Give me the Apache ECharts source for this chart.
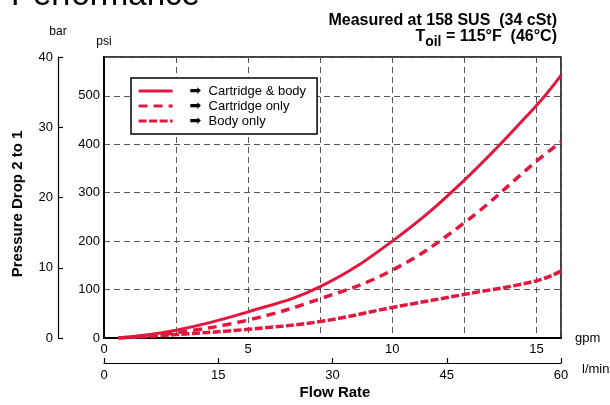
<!DOCTYPE html>
<html>
<head>
<meta charset="utf-8">
<script src="https://cdn.jsdelivr.net/npm/echarts@6/dist/echarts.min.js"></script>
<style>
    html, body { margin: 0; padding: 0; background: #fff; }
    #perf { width: 610px; height: 405px; }
</style>
</head>
<body>
<div id="perf"></div>
<script>
// flow in gpm, pressure drop in psi
var flowGpm = [0.5, 2.5, 5, 7.5, 10, 12.5, 15, 15.85];
var cartridgeBody = [0, 16, 54, 106, 200, 326, 480, 542];
var cartridgeOnly = [0, 11, 37, 81, 140, 238, 365, 405];
var bodyOnly = [0, 7, 18, 34, 63, 90, 118, 138];

var seriesNames = ['Cartridge & body', 'Cartridge only', 'Body only'];
var gpmTicks = [0, 5, 10, 15];
var psiTicks = [0, 100, 200, 300, 400, 500];

var red = '#e2173d';
var font = "'Liberation Sans', Arial, Helvetica, sans-serif";

function pairs(ys) {
    var out = [];
    for (var i = 0; i < flowGpm.length; i++) {
        out.push([flowGpm[i], ys[i]]);
    }
    return out;
}

var chart = echarts.init(document.getElementById('perf'));

var dashGrid = {
    show: true,
    lineStyle: { color: '#555', width: 1, type: [6, 4] }
};

var option = {
    animation: false,
    textStyle: { fontFamily: font },
    grid: {
        left: 104,
        right: 49,
        top: 57,
        bottom: 67,
        outerBoundsMode: 'none',
        containLabel: false,
        show: true,
        borderColor: '#000',
        borderWidth: 1.5,
        backgroundColor: 'transparent'
    },
    legend: {
        left: 131,
        top: 78,
        orient: 'vertical',
        itemWidth: 34,
        itemHeight: 10,
        itemGap: 1,
        padding: [6, 11, 6, 6],
        borderColor: '#000',
        borderWidth: 1.5,
        backgroundColor: '#fff',
        data: seriesNames,
        itemStyle: { opacity: 0 },
        lineStyle: { width: 3.2 },
        formatter: function(name) {
            return '{arr|➡}  ' + name;
        },
        textStyle: {
            fontSize: 13,
            color: '#000',
            fontFamily: font,
            rich: {
                arr: { fontFamily: 'DejaVu Sans', fontSize: 14, color: '#000', padding: [0, 0, 0, 12] }
            }
        }
    },
    xAxis: [{
            type: 'value',
            min: 0,
            max: 15.85,
            interval: 2.5,
            position: 'bottom',
            name: 'gpm',
            nameGap: 14,
            nameTextStyle: { color: '#000', fontSize: 13, verticalAlign: 'middle', padding: [0, 0, 6, 0] },
            axisLine: { onZero: false, lineStyle: { color: '#000', width: 2 } },
            axisTick: { show: false },
            axisLabel: {
                color: '#000',
                fontSize: 13,
                margin: 5,
                showMaxLabel: false,
                formatter: function(v) {
                    return gpmTicks.indexOf(v) >= 0 ? String(v) : '';
                }
            },
            splitLine: dashGrid
        },
        {
            type: 'value',
            min: 0,
            max: 60,
            interval: 15,
            position: 'bottom',
            offset: 25,
            name: 'l/min',
            nameGap: 21,
            nameTextStyle: { color: '#000', fontSize: 13, verticalAlign: 'top' },
            axisLine: { onZero: false, lineStyle: { color: '#000', width: 1.2 } },
            axisTick: { show: true, inside: true, length: 5, lineStyle: { color: '#000', width: 1.2 } },
            axisLabel: { color: '#000', fontSize: 13, margin: 6 },
            splitLine: { show: false }
        }
    ],
    yAxis: [{
            type: 'value',
            min: 0,
            max: 580,
            interval: 100,
            position: 'left',
            name: 'psi',
            nameGap: 9,
            nameTextStyle: { color: '#000', fontSize: 12, align: 'center' },
            axisLine: { show: true, onZero: false, lineStyle: { color: '#000', width: 2 } },
            axisTick: { show: false },
            axisLabel: {
                color: '#000',
                fontSize: 13,
                margin: 4,
                showMaxLabel: false,
                formatter: function(v) {
                    return psiTicks.indexOf(v) >= 0 ? String(v) : '';
                }
            },
            splitLine: dashGrid
        },
        {
            type: 'value',
            min: 0,
            max: 40,
            interval: 10,
            position: 'left',
            offset: 46,
            name: 'bar',
            nameGap: 19,
            nameTextStyle: { color: '#000', fontSize: 12, align: 'center' },
            axisLine: { show: true, onZero: false, lineStyle: { color: '#000', width: 1.2 } },
            axisTick: { show: true, inside: true, length: 5, lineStyle: { color: '#000', width: 1.2 } },
            axisLabel: { color: '#000', fontSize: 13, margin: 5 },
            splitLine: { show: false }
        }
    ],
    series: [{
            name: seriesNames[0],
            type: 'line',
            xAxisIndex: 0,
            yAxisIndex: 0,
            smooth: 0.4,
            symbol: 'none',
            data: pairs(cartridgeBody),
            lineStyle: { color: red, width: 3 },
            itemStyle: { color: red }
        },
        {
            name: seriesNames[1],
            type: 'line',
            xAxisIndex: 0,
            yAxisIndex: 0,
            smooth: 0.4,
            symbol: 'none',
            data: pairs(cartridgeOnly),
            lineStyle: { color: red, width: 3.5, type: [9, 6] },
            itemStyle: { color: red }
        },
        {
            name: seriesNames[2],
            type: 'line',
            xAxisIndex: 0,
            yAxisIndex: 0,
            smooth: 0.4,
            symbol: 'none',
            data: pairs(bodyOnly),
            lineStyle: { color: red, width: 3.5, type: [8, 2.5] },
            itemStyle: { color: red }
        }
    ],
    graphic: [{
            type: 'text',
            x: 11,
            y: 12,
            style: {
                text: 'Performance',
                font: 'normal 33px ' + font,
                fill: '#000',
                align: 'left',
                verticalAlign: 'bottom'
            }
        },
        {
            type: 'text',
            x: 557,
            y: 21,
            style: {
                text: 'Measured at 158 SUS  (34 cSt)',
                font: 'bold 16px ' + font,
                fill: '#000',
                align: 'right',
                verticalAlign: 'middle'
            }
        },
        {
            type: 'text',
            x: 557,
            y: 29,
            style: {
                text: '{a|T}{b|oil}{a| = 115°F  (46°C)}',
                align: 'right',
                verticalAlign: 'top',
                fill: '#000',
                rich: {
                    a: { fontFamily: font, fontWeight: 'bold', fontSize: 16, lineHeight: 18, verticalAlign: 'top' },
                    b: { fontFamily: font, fontWeight: 'bold', fontSize: 14, lineHeight: 26 }
                }
            }
        },
        {
            type: 'text',
            x: 18,
            y: 204,
            rotation: Math.PI / 2,
            style: {
                text: 'Pressure Drop 2 to 1',
                font: 'bold 15px ' + font,
                fill: '#000',
                align: 'center',
                verticalAlign: 'middle'
            }
        },
        {
            type: 'text',
            x: 335,
            y: 393,
            style: {
                text: 'Flow Rate',
                font: 'bold 15px ' + font,
                fill: '#000',
                align: 'center',
                verticalAlign: 'middle'
            }
        }
    ]
};

chart.setOption(option);
</script>
</body>
</html>
